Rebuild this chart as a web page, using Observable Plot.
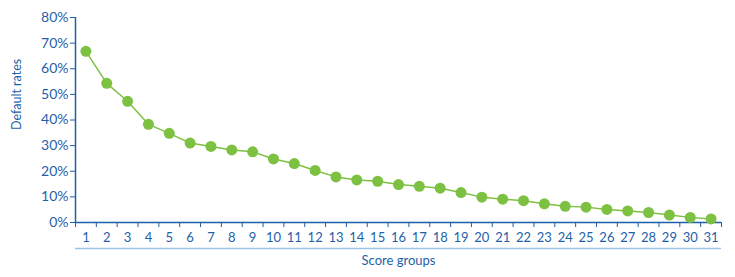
<!DOCTYPE html>
<html>
<head>
<meta charset="utf-8">
<script src="https://cdn.jsdelivr.net/npm/d3@7"></script>
<script src="https://cdn.jsdelivr.net/npm/@observablehq/plot@0.6"></script>
<style>
  html, body { margin: 0; padding: 0; background: #fff; }
  #chart svg { display: block; }
</style>
</head>
<body>
<div id="chart"></div>
<script>
const groups = d3.range(1, 32);
const rates = [66.8, 54.3, 47.3, 38.3, 34.8, 31.0, 29.7, 28.3, 27.6, 24.8, 23.0, 20.3, 17.8, 16.6, 16.1, 14.8, 14.1, 13.4, 11.7, 9.9, 9.1, 8.5, 7.3, 6.3, 6.0, 5.1, 4.5, 3.9, 2.9, 2.0, 1.4];
const yTicks = [0, 10, 20, 30, 40, 50, 60, 70, 80];
const xLabel = "Score groups";
const yLabel = "Default rates";

const data = groups.map((g, i) => ({group: g, rate: rates[i] / 100}));
const boundaries = [groups[0] - 0.5, ...groups.map(g => g + 0.5)];

const blue = "#1f5fa9";
const green = "#7dc142";
const lightBlue = "#9cc2e8";

const chart = Plot.plot({
  width: 735,
  height: 277,
  marginLeft: 75,
  marginRight: 14,
  marginTop: 17,
  marginBottom: 55,
  style: {fontFamily: "Lato, 'Open Sans', sans-serif", fontSize: "13px", color: blue, background: "white"},
  x: {type: "linear", domain: [groups[0] - 0.5, groups[groups.length - 1] + 0.5]},
  y: {domain: [0, 0.8]},
  marks: [
    Plot.axisY(yTicks.map(t => t / 100), {tickSize: 5, tickPadding: 2, tickFormat: d => Math.round(d * 100) + "%", stroke: blue, fill: blue, label: null, fontSize: 14}),
    Plot.axisX(boundaries, {tickSize: 5, tickFormat: () => "", stroke: blue, label: null}),
    Plot.axisX(groups, {tickSize: 0, tickPadding: 10, tickFormat: d => String(d), fill: blue, label: null}),
    Plot.ruleX([boundaries[0]], {stroke: blue, strokeWidth: 1.5}),
    Plot.ruleY([0], {stroke: blue, strokeWidth: 1.5}),
    Plot.ruleY([0], {stroke: lightBlue, strokeWidth: 1.5, dy: 26}),
    Plot.line(data, {x: "group", y: "rate", stroke: green, strokeWidth: 1.5}),
    Plot.dot(data, {x: "group", y: "rate", r: 5.5, fill: green, stroke: "none"}),
    Plot.text([xLabel], {frameAnchor: "bottom", dy: 42, fill: blue, fontSize: 13}),
    Plot.text([yLabel], {frameAnchor: "left", dx: -59, dy: 10, rotate: -90, fill: blue, fontSize: 12.5})
  ]
});
document.getElementById("chart").appendChild(chart);
</script>
</body>
</html>
